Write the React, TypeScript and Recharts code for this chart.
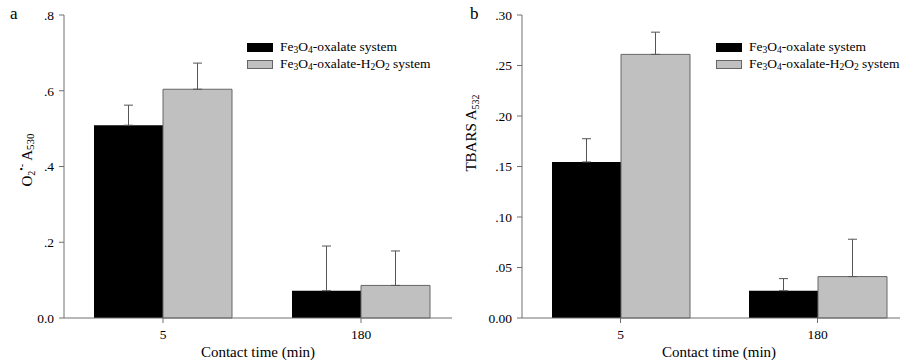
import { BarChart, Bar, XAxis, YAxis, ErrorBar, Legend } from 'recharts'

// contact time categories
const categories = ['5', '180']

// panel a: O2•- A530
const o2Fe = [0.509, 0.072]
const o2FeErr = [0.053, 0.118]
const o2H2 = [0.604, 0.086]
const o2H2Err = [0.069, 0.091]

// panel b: TBARS A532
const tbFe = [0.1545, 0.027]
const tbFeErr = [0.023, 0.012]
const tbH2 = [0.261, 0.041]
const tbH2Err = [0.022, 0.037]

const seriesNames = ['Fe3O4-oxalate system', 'Fe3O4-oxalate-H2O2 system']

const o2Ticks = [0, 0.2, 0.4, 0.6, 0.8]
const tbTicks = [0, 0.05, 0.1, 0.15, 0.2, 0.25, 0.3]

const AXIS = '#707070'
const FE_FILL = '#000000'
const H2_FILL = '#c0c0c0'
const H2_STROKE = '#666666'
const ERR = '#555555'

const buildRows = (fe: number[], feErr: number[], h2: number[], h2Err: number[]) =>
      categories.map((name, i) => ({
            name,
            fe: fe[i],
            feErr: [0, feErr[i]],
            h2: h2[i],
            h2Err: [0, h2Err[i]]
      }))

const o2Data = buildRows(o2Fe, o2FeErr, o2H2, o2H2Err)
const tbData = buildRows(tbFe, tbFeErr, tbH2, tbH2Err)

// digits in chemical names drawn as subscripts
const chem = (s: string) =>
      s.split(/(\d)/).map((p, i) =>
            /\d/.test(p) ? (
                  <span key={i} style={{ fontSize: 9.5, position: 'relative', top: 2 }}>
                        {p}
                  </span>
            ) : (
                  <span key={i}>{p}</span>
            )
      )

const LegendBox = () => (
      <div style={{ fontSize: 13.5, lineHeight: '16px', color: '#000' }}>
            {seriesNames.map((n, i) => (
                  <div key={n} style={{ display: 'flex', alignItems: 'center', whiteSpace: 'nowrap' }}>
                        <span
                              style={{
                                    display: 'inline-block',
                                    width: 26,
                                    height: 9,
                                    boxSizing: 'border-box',
                                    background: i === 0 ? FE_FILL : H2_FILL,
                                    border: `1px solid ${i === 0 ? FE_FILL : H2_STROKE}`,
                                    marginRight: 7
                              }}
                        />
                        <span>{chem(n)}</span>
                  </div>
            ))}
      </div>
)

const fmtO2 = (v: number) => (v === 0 ? '0.0' : v.toFixed(1).replace(/^0/, ''))
const fmtTb = (v: number) => (v === 0 ? '0.00' : v.toFixed(2).replace(/^0/, ''))

const tickStyle = { fill: '#000', fontSize: 13.5 }

const O2Label = () => (
      <text x={29} y={160} transform="rotate(-90 29 160)" textAnchor="middle" dominantBaseline="middle" fontSize={15} fill="#000">
            O<tspan fontSize={10} dy={4}>2</tspan>
            <tspan fontSize={10} dy={-10}>•-</tspan>
            <tspan dy={6}> A</tspan>
            <tspan fontSize={11} dy={2}>530</tspan>
      </text>
)

const TbLabel = () => (
      <text x={13} y={133} transform="rotate(-90 13 133)" textAnchor="middle" dominantBaseline="middle" fontSize={15} fill="#000">
            TBARS A<tspan fontSize={10} dy={4}>532</tspan>
      </text>
)

const Panel = ({
      data,
      width,
      yWidth,
      right,
      domain,
      ticks,
      fmt,
      label,
      padRight,
      frameRight
}: any) => (
      <BarChart width={width} height={362} data={data} margin={{ top: 15, right, bottom: 0, left: 0 }} barGap={0}>
            <XAxis
                  dataKey="name"
                  height={44}
                  stroke={AXIS}
                  tick={tickStyle}
                  tickSize={5}
                  tickMargin={6}
                  padding={{ left: 0, right: padRight }}
                  label={{ value: 'Contact time (min)', position: 'insideBottom', offset: 5, fill: '#000', fontSize: 15 }}
            />
            <XAxis xAxisId="top" dataKey="name" orientation="top" height={0} stroke={AXIS} tick={false} tickLine={false} />
            <YAxis
                  width={yWidth}
                  domain={domain}
                  ticks={ticks}
                  tickFormatter={fmt}
                  stroke={AXIS}
                  tick={tickStyle}
                  tickSize={5}
                  tickMargin={5}
                  label={{ content: label }}
            />
            {frameRight && <YAxis yAxisId="r" orientation="right" width={0} stroke={AXIS} tick={false} tickLine={false} />}
            <Legend
                  layout="vertical"
                  align="center"
                  verticalAlign="middle"
                  content={() => <LegendBox />}
                  wrapperStyle={{ left: frameRight ? 247 : 256, top: 39, width: 'auto', height: 'auto' }}
            />
            <Bar dataKey="fe" name={seriesNames[0]} fill={FE_FILL} barSize={69} isAnimationActive={false}>
                  <ErrorBar dataKey="feErr" width={4.5} stroke={ERR} strokeWidth={1} direction="y" />
            </Bar>
            <Bar dataKey="h2" name={seriesNames[1]} fill={H2_FILL} stroke={H2_STROKE} strokeWidth={1} barSize={69} isAnimationActive={false}>
                  <ErrorBar dataKey="h2Err" width={4.5} stroke={ERR} strokeWidth={1} direction="y" />
            </Bar>
      </BarChart>
)

export default function App() {
      return (
            <div
                  style={{
                        position: 'fixed',
                        top: 0,
                        left: 0,
                        width: 900,
                        height: 362,
                        overflow: 'hidden',
                        background: '#fff',
                        fontFamily: '"Liberation Serif", "Times New Roman", serif'
                  }}
            >
                  <div style={{ position: 'absolute', left: 10, top: 4, fontSize: 17 }}>a</div>
                  <div style={{ position: 'absolute', left: 470, top: 4, fontSize: 17 }}>b</div>
                  <div style={{ position: 'absolute', left: 0, top: 0 }}>
                        <Panel
                              data={o2Data}
                              width={460}
                              yWidth={64}
                              right={8}
                              domain={[0, 0.8]}
                              ticks={o2Ticks}
                              fmt={fmtO2}
                              label={O2Label}
                              padRight={-8}
                              frameRight
                        />
                  </div>
                  <div style={{ position: 'absolute', left: 460, top: 0 }}>
                        <Panel
                              data={tbData}
                              width={456}
                              yWidth={62}
                              right={0}
                              domain={[0, 0.3]}
                              ticks={tbTicks}
                              fmt={fmtTb}
                              label={TbLabel}
                              padRight={0}
                              frameRight={false}
                        />
                  </div>
            </div>
      )
}
